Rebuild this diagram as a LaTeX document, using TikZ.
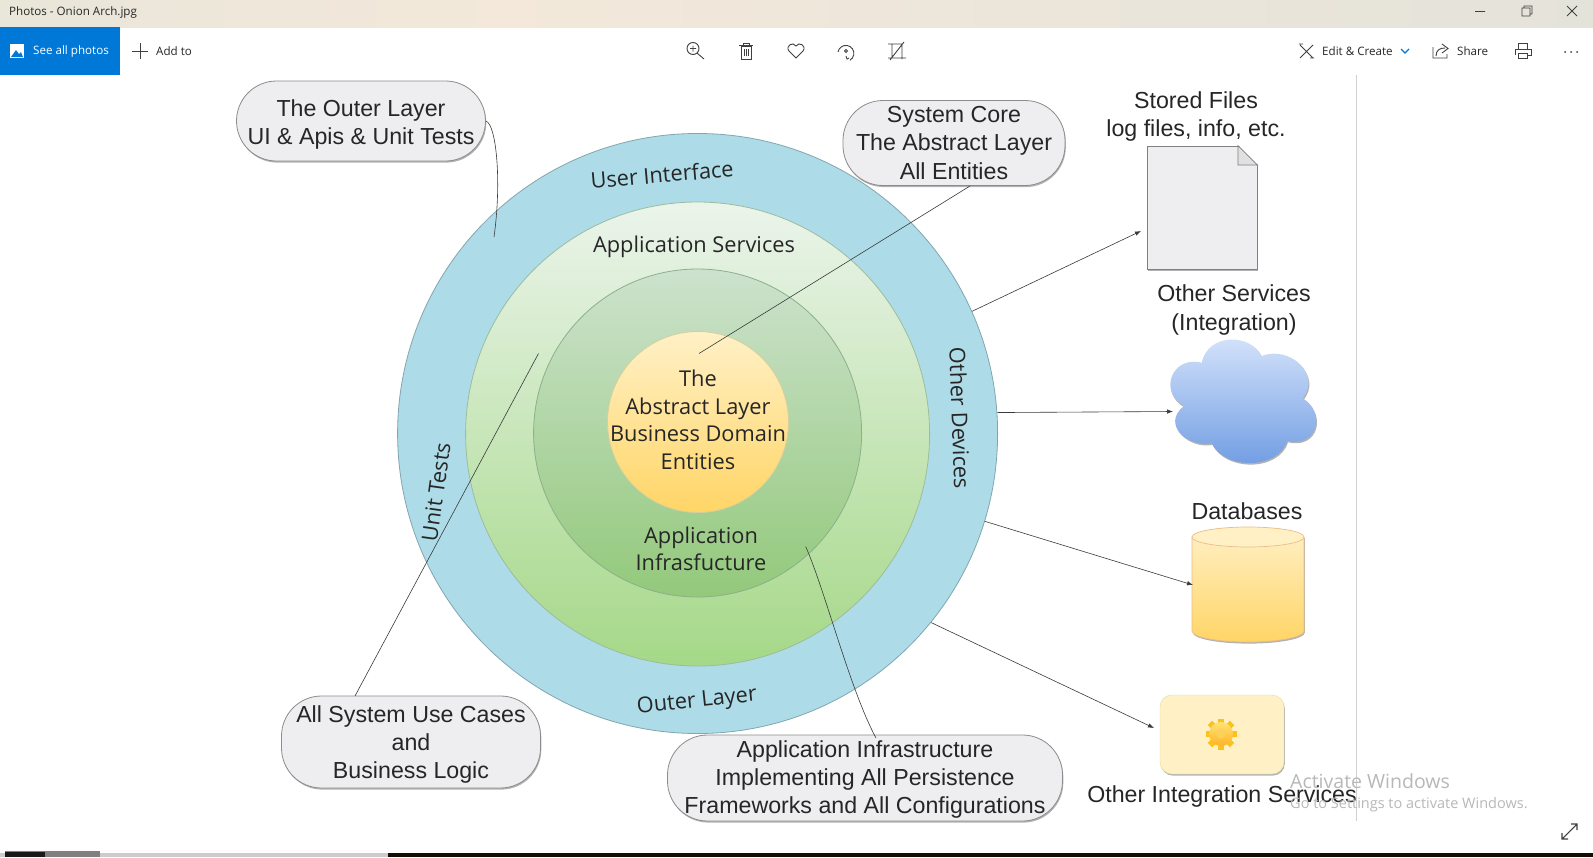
\documentclass[tikz,border=0pt]{standalone}
\usepackage{fontspec}
\setmainfont{Liberation Sans}
\newfontfamily\ringfont{Open Sans}
\newfontfamily\uifont{Open Sans}
\usetikzlibrary{shadows,arrows.meta}
\definecolor{ringblue}{HTML}{ADDCE8}
\definecolor{winblue}{HTML}{0078D7}
\definecolor{barleft}{HTML}{E9E6DA}
\definecolor{barmid}{HTML}{F3E8DA}
\definecolor{barright}{HTML}{E4E3DA}
\definecolor{boxgrey}{HTML}{EEEEF0}
\definecolor{linegrey}{HTML}{8C8C8C}
\definecolor{inkgrey}{HTML}{3A3A3A}
\definecolor{butter}{HTML}{FFF0C6}
\definecolor{honey}{HTML}{FFD566}
\definecolor{skytop}{HTML}{D6E4FB}
\definecolor{skybottom}{HTML}{6E9BE2}
\tikzset{
    softshadow/.style={drop shadow={shadow xshift=0.8pt, shadow yshift=-1.6pt, opacity=0.3, fill=black}},
    ring/.style={circle, draw=#1, inner sep=0pt, line width=0.8pt},
    ringlabel/.style={font=\ringfont\fontsize{21.8}{27.5}\selectfont, align=center, text=black!85},
    bubble/.style={rounded corners=40pt, draw=linegrey, fill=boxgrey, line width=0.8pt, softshadow,
        align=center, inner sep=0pt, font=\fontsize{23.2}{28.1}\selectfont, text=black!85},
    caption/.style={align=center, font=\fontsize{23.2}{28.1}\selectfont, text=black!85},
    leader/.style={draw=inkgrey, line width=0.6pt},
    feed/.style={draw=inkgrey, line width=0.6pt, -{Latex[length=6pt,width=4.5pt]}},
    uitext/.style={font=\uifont\fontsize{11.6}{14}\selectfont, text=black!85, inner sep=0pt, anchor=west},
    uiicon/.style={draw=black!75, line width=0.9pt},
    watermark/.style={font=\uifont, text=black!28, inner sep=0pt, anchor=west}
}
\begin{document}
\begin{tikzpicture}[x=1pt, y=-1pt]
    \useasboundingbox (0,0) rectangle (1593,857);
    \fill[white] (0,0) rectangle (1593,857);

    % Window chrome
    \shade[left color=barleft, right color=barmid] (0,0) rectangle (500,27);
    \shade[left color=barmid, right color=barright] (500,0) rectangle (1593,27);
    \fill[winblue] (0,27) rectangle (120,75);
    \node (title) at (9,12) [uitext] {Photos - Onion Arch.jpg};
    \node (allphotos) at (33,51) [uitext, text=white] {See all photos};
    \node (addto) at (156,51) [uitext] {Add to};
    \node (editcreate) at (1322,51) [uitext] {Edit \& Create};
    \node (share) at (1457,51) [uitext] {Share};

    % Toolbar icons
    \fill[white] (10,44) rectangle (24,58);
    \fill[winblue] (11,57) -- (16,50) -- (19,54) -- (21,52) -- (23,57) -- cycle;
    \draw[uiicon] (132,51) -- (148,51) (140,43) -- (140,59);
    \draw[uiicon] (693,48.5) circle[radius=6pt] (690,48.5) -- (696,48.5) (693,45.5) -- (693,51.5) (697,53) -- (704,59);
    \draw[uiicon] (741,46) rectangle (751,59) (739,45) -- (753,45) (743,45) -- (743,43) -- (749,43) -- (749,45)
        (744,49) -- (744,56) (746,49) -- (746,56) (748,49) -- (748,56);
    \draw[uiicon] (796,58) -- (789,51) .. controls (785,46) and (793,41) .. (796,46)
        .. controls (799,41) and (807,46) .. (803,51) -- cycle;
    \draw[uiicon] (838,52) arc[start angle=170, end angle=-60, radius=8pt] (846,51) circle[radius=1.5pt]
        (849,58) -- (847,59) -- (846,56);
    \draw[uiicon] (892,44) -- (892,58) -- (906,58) (888,44) -- (902,44) -- (902,59) (890,60) -- (904,42) (892,58) -- (888,58);
    \draw[uiicon] (1300,45) -- (1313,58) (1313,45) -- (1300,58) (1299,44) -- (1303,44) (1310,58) -- (1314,58);
    \draw[winblue, line width=1.1pt] (1401,49) -- (1405,53) -- (1409,49);
    \draw[uiicon] (1433,47) -- (1433,58) -- (1447,58) -- (1447,54) (1436,56) .. controls (1436,50) and (1440,48) .. (1445,48)
        (1442,44) -- (1448,48.5) -- (1442,53);
    \draw[uiicon] (1518,49) -- (1518,43) -- (1527,43) -- (1527,49) (1515,55) -- (1515,49) -- (1531,49) -- (1531,55) -- (1527,55)
        (1518,53) rectangle (1527,58);
    \fill[black!75] (1565,52) circle[radius=1pt] (1571,52) circle[radius=1pt] (1577,52) circle[radius=1pt];
    \draw[uiicon] (1475,11.5) -- (1485,11.5) (1522,8) rectangle (1530,16) (1524,8) -- (1524,6) -- (1532,6) -- (1532,14) -- (1530,14)
        (1567,6) -- (1577,16) (1577,6) -- (1567,16);
    \draw[uiicon, line width=1.1pt] (1562,839) -- (1577,824) (1571,824) -- (1577,824) -- (1577,830) (1562,833) -- (1562,839) -- (1568,839);
    \draw[black!18, line width=0.8pt] (1356.5,75) -- (1356.5,821);

    % Bottom bar
    \fill[black!20] (0,853) rectangle (388,857);
    \fill[black!90!brown] (388,853) rectangle (1593,857);
    \fill[black!50] (5,851) rectangle (100,857);
    \fill[black!90] (5,852) rectangle (45,857);

    % Define rings
    \node (outer) at (697.6,433.5) [ring=black!25!ringblue, fill=ringblue, minimum size=600pt] {};
    \node (middle) at (697.6,434) [ring=black!30!green!30!gray!60, top color=green!30!gray!12!white, bottom color={rgb,255:red,165;green,216;blue,136}, minimum size=464pt] {};
    \node (inner) at (697.6,433) [ring=black!30!green!30!gray!70, top color={rgb,255:red,205;green,226;blue,205}, bottom color={rgb,255:red,147;green,201;blue,123}, minimum size=328pt] {};
    \node (core) at (698,422) [ring=black!15!yellow!50!gray!60, top color=butter, bottom color=honey, minimum size=181pt] {};
    \node (corelabel) at (698,420) [ringlabel] {The\\Abstract Layer\\Business Domain\\Entities};
    \node (infralabel) at (701,549) [ringlabel] {Application\\Infrasfucture};
    \node (serviceslabel) at (694,247) [ringlabel] {Application Services};
    \node (uilabel) at (662,174.5) [ringlabel, rotate=5] {User Interface};
    \node (outerlabel) at (697,702) [ringlabel, rotate=6] {Outer Layer};
    \node (testslabel) at (436,492) [ringlabel, rotate=82] {Unit Tests};
    \node (deviceslabel) at (960,418) [ringlabel, rotate=-88] {Other Devices};

    % Define callouts
    \node (outernote) at (361,121) [bubble, minimum width=249pt, minimum height=80pt] {\rule{0pt}{23pt}The Outer Layer\\UI \& Apis \& Unit Tests};
    \node (corenote) at (954,143) [bubble, minimum width=222pt, minimum height=85pt] {System Core\\The Abstract Layer\\All Entities};
    \node (casesnote) at (411,742) [bubble, minimum width=259pt, minimum height=92pt] {\rule{0pt}{22pt}All System Use Cases\\and\\Business Logic};
    \node (infranote) at (865,778) [bubble, minimum width=395pt, minimum height=86pt] {\rule{0pt}{20pt}Application Infrastructure\\Implementing All Persistence\\Frameworks and All Configurations};

    % Define stores
    \node (filecaption) at (1196,116.5) [caption] {Stored Files\\log files, info, etc.};
    \node (file) at (1202,207.5) [rectangle, draw=black!50, fill=boxgrey, line width=0.9pt, minimum width=110pt, minimum height=123pt, softshadow] {};
    \fill[white] (file.north east) ++(-19.5pt,0.7pt) -- ++(20.4pt,0) -- ++(0,-20.4pt) -- cycle;
    \filldraw[draw=black!50, fill=black!12, line width=0.8pt] (file.north east) ++(-19.5pt,0) -- ++(19.5pt,-19.5pt) -- ++(-19.5pt,0) -- cycle;
    \node (cloudcaption) at (1234,310) [caption] {Other Services\\(Integration)};
    \shade[top color=skytop, bottom color=skybottom, softshadow] (1201.7,362.7)
        .. controls (1208,333) and (1250,333) .. (1261.7,356)
        .. controls (1290,345) and (1322,375) .. (1302.7,398.3)
        .. controls (1326,412) and (1318,448) .. (1287.3,440.7)
        .. controls (1278,470) and (1225,470) .. (1211.7,443.3)
        .. controls (1190,448) and (1160,425) .. (1184,406)
        .. controls (1158,392) and (1172,355) .. (1201.7,362.7) -- cycle;
    \node (dbcaption) at (1247,511.5) [caption] {Databases};
    \shade[top color=butter, bottom color=honey, softshadow] (1192,537) -- (1192,631) arc[start angle=180, end angle=360, x radius=56pt, y radius=11pt] -- (1304,537) arc[start angle=0, end angle=180, x radius=56pt, y radius=10pt] -- cycle;
    \draw[draw=butter!70!black!40!orange!60, line width=0.7pt] (1192,537) -- (1192,631) arc[start angle=180, end angle=360, x radius=56pt, y radius=11pt] -- (1304,537);
    \filldraw[draw=butter!70!black!40!orange!60, fill=butter, line width=0.7pt] (1248,537) ellipse[x radius=56pt, y radius=10pt];
    \node (gearbox) at (1222,734.5) [rectangle, rounded corners=12pt, draw=yellow!50!gray!55, fill=butter, minimum width=124pt, minimum height=79pt, softshadow] {};
    \foreach \ang in {0,45,...,315}
        \fill[yellow!50!orange!90!white, rotate around={\ang:(1221,734)}] (1218,718.5) rectangle (1224,749.5);
    \node (gear) at (1221,734) [circle, inner sep=0pt, minimum size=24pt, top color=yellow!60!orange!55!white, bottom color=yellow!30!orange!85!white] {};
    \node (gearhole) at (1221,734) [circle, inner sep=0pt, minimum size=9pt, fill=yellow!50!orange!65!white] {};
    \node (gearcaption) at (1222,796) [caption] {Other Integration Services};
    \node (activate) at (1290,781) [watermark, font=\uifont\fontsize{19.5}{22}\selectfont] {Activate Windows};
    \node (settings) at (1290,805) [watermark, font=\uifont\fontsize{14.5}{16}\selectfont] {Go to Settings to activate Windows.};

    % Free ends
    \coordinate (outertip) at (494,237);
    \coordinate (coretip) at (699,353.5);
    \coordinate (casestip) at (538.5,353.5);
    \coordinate (infratip) at (805.7,546.6);
    \coordinate (filein) at (1141,231);
    \coordinate (cloudin) at (1173,411.5);
    \coordinate (dbin) at (1193,585);
    \coordinate (gearin) at (1154,728);

    % Draw leaders
    \draw[leader] (outernote.east) .. controls (496,124) and (502,180) .. (outertip);
    \draw[leader] (970,186) -- (coretip);
    \draw[leader] (355,696) -- (casestip);
    \draw[leader] (876,738) .. controls (850,690) and (825,590) .. (infratip);

    % Draw arrows
    \draw[feed] (outer.24.5) -- (filein);
    \draw[feed] (outer.4) -- (cloudin);
    \draw[feed] (outer.-17) -- (dbin);
    \draw[feed] (outer.-39.6) -- (gearin);
\end{tikzpicture}
\end{document}
